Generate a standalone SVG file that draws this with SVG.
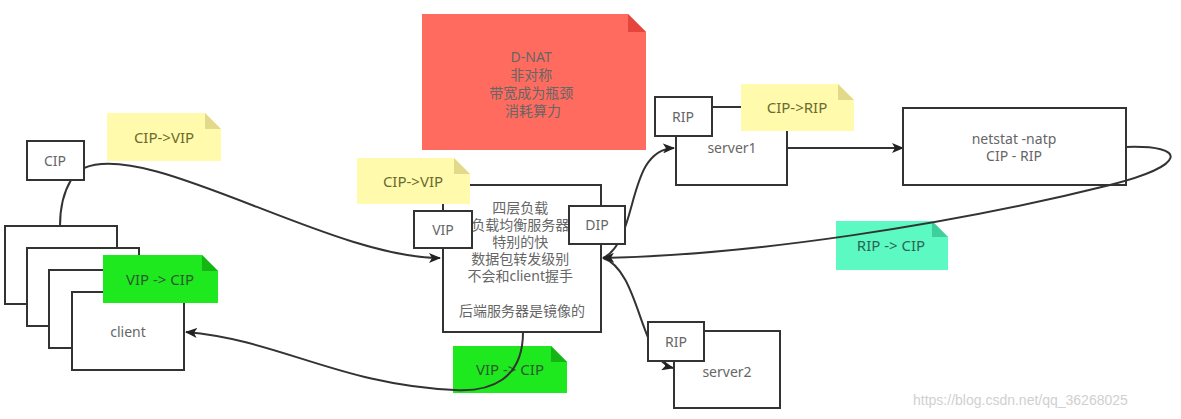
<svg xmlns="http://www.w3.org/2000/svg" width="1181" height="419" viewBox="0 0 1181 419">
<style>
.box{fill:#fff;stroke:#333;stroke-width:2}
.t{font-family:"Noto Sans","Noto Sans CJK SC",sans-serif;font-size:14px;fill:#666;text-anchor:middle}
.nt{font-family:"Noto Sans","Noto Sans CJK SC",sans-serif;font-size:15px;text-anchor:middle}
.c{fill:none;stroke:#333;stroke-width:2}
.a{marker-end:url(#ah)}
</style>
<defs>
<marker id="ah" viewBox="0 0 12 10" refX="11" refY="5" markerWidth="12" markerHeight="10" markerUnits="userSpaceOnUse" orient="auto">
<path d="M0 0 L12 5 L0 10 L3 5 Z" fill="#222"/>
</marker>
</defs>
<rect width="1181" height="419" fill="#fff"/>

<g id="client">
<rect class="box" x="5" y="226" width="112" height="78"/>
<rect class="box" x="27" y="248" width="112" height="78"/>
<rect class="box" x="49" y="270" width="112" height="78"/>
<rect class="box" x="72" y="292" width="112" height="78"/>
<text class="t" x="128" y="337">client</text>
</g>

<g id="lb">
<rect class="box" x="443" y="185" width="158" height="147"/>
<text class="t" font-size="13">
<tspan x="522" y="213">四层负载</tspan>
<tspan x="522" y="230">负载均衡服务器</tspan>
<tspan x="522" y="247">特别的快</tspan>
<tspan x="522" y="264">数据包转发级别</tspan>
<tspan x="522" y="281">不会和client握手</tspan>
<tspan x="522" y="316">后端服务器是镜像的</tspan>
</text>
</g>

<g id="note-vip-cip-2">
<path d="M453 346 H551 L567 362 V393 H453 Z" fill="#1EE91E"/>
<path d="M551 346 L567 362 H551 Z" fill="#14B514"/>
<text class="nt" x="510" y="375" fill="#2d5a2d">VIP -&gt; CIP</text>
</g>

<g id="note-rip-cip">
<path d="M836 221 H932 L948 237 V270 H836 Z" fill="#5DF9C3"/>
<path d="M932 221 L948 237 H932 Z" fill="#3FCF9C"/>
<text class="nt" x="891" y="251" fill="#2b6652">RIP -&gt; CIP</text>
</g>

<g id="connectors">
<path class="c" d="M71 180 C62 195 60 210 60 226"/>
<path class="c a" d="M84 168 C150 140 330 258 440 258"/>
<path class="c a" d="M523 332 C523 380 490 392 455 390 C340 385 280 340 186 332"/>
<path class="c a" d="M603 258 C640 240 625 150 674 148"/>
<path class="c a" d="M603 258 C640 270 640 360 673 368"/>
<path class="c a" d="M787 148 L903 148"/>
<path class="c a" d="M1126 147 C1188 145 1188 165 1110 185 C950 225 750 255 603 258"/>
<path class="c" d="M712 107 L742 107"/>
</g>

<g id="note-cip-vip-1">
<path d="M107 113 H205 L221 129 V161 H107 Z" fill="#FFFAAC"/>
<path d="M205 113 L221 129 H205 Z" fill="#E3D98A"/>
<text class="nt" x="164" y="143" fill="#6b6b2e">CIP-&gt;VIP</text>
</g>

<g id="cip">
<rect class="box" x="27" y="141" width="57" height="39"/>
<text class="t" x="55" y="166">CIP</text>
</g>

<g id="note-vip-cip-1">
<path d="M103 255 H202 L218 271 V303 H103 Z" fill="#1EE91E"/>
<path d="M202 255 L218 271 H202 Z" fill="#14B514"/>
<text class="nt" x="160" y="285" fill="#2d5a2d">VIP -&gt; CIP</text>
</g>

<g id="note-dnat">
<path d="M422 14 H628 L646 32 V150 H422 Z" fill="#FF6B5E"/>
<path d="M628 14 L646 32 H628 Z" fill="#E5453A"/>
<text class="t" font-size="13" fill="#7a3a35">
<tspan x="533" y="62">D-NAT</tspan>
<tspan x="533" y="80">非对称</tspan>
<tspan x="533" y="98">带宽成为瓶颈</tspan>
<tspan x="533" y="116">消耗算力</tspan>
</text>
</g>

<g id="note-cip-vip-2">
<path d="M357 158 H454 L470 174 V204 H357 Z" fill="#FFFAAC"/>
<path d="M454 158 L470 174 H454 Z" fill="#E3D98A"/>
<text class="nt" x="413" y="187" fill="#6b6b2e">CIP-&gt;VIP</text>
</g>

<g id="vip">
<rect class="box" x="414" y="211" width="58" height="37"/>
<text class="t" x="443" y="235">VIP</text>
</g>

<g id="dip">
<rect class="box" x="569" y="206" width="56" height="38"/>
<text class="t" x="597" y="230">DIP</text>
</g>

<g id="server1">
<rect class="box" x="676" y="107" width="111" height="78"/>
<text class="t" x="732" y="153">server1</text>
<rect class="box" x="655" y="97" width="57" height="39"/>
<text class="t" x="683" y="122">RIP</text>
</g>

<g id="note-cip-rip">
<path d="M741 84 H838 L854 100 V131 H741 Z" fill="#FFFAAC"/>
<path d="M838 84 L854 100 H838 Z" fill="#E3D98A"/>
<text class="nt" x="797" y="113" fill="#6b6b2e">CIP-&gt;RIP</text>
</g>

<g id="netstat">
<rect class="box" x="903" y="108" width="223" height="77" fill-opacity="0"/>
<text class="t"><tspan x="1014" y="144">netstat -natp</tspan><tspan x="1014" y="161">CIP - RIP</tspan></text>
</g>

<g id="server2">
<rect class="box" x="674" y="331" width="106" height="77"/>
<text class="t" x="727" y="377">server2</text>
<rect class="box" x="648" y="322" width="56" height="39"/>
<text class="t" x="676" y="347">RIP</text>
</g>

<text x="913" y="405" font-family="Liberation Sans, Arial, sans-serif" font-size="14" fill="#d0d0d0">https://blog.csdn.net/qq_36268025</text>
</svg>
